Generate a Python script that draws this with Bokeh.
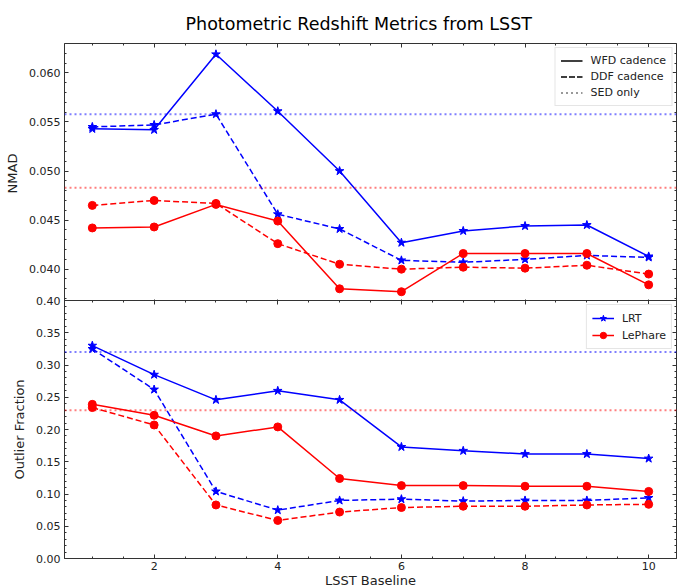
import numpy as np
from bokeh.plotting import figure
from bokeh.models import (Range1d, LinearAxis, SingleIntervalTicker, FixedTicker, Span,
                          Legend, LegendItem, CustomJSTickFormatter, ColumnDataSource)
from bokeh.layouts import column
from bokeh.embed import file_html
from bokeh.resources import INLINE

# ---------------- data ----------------
baseline = [1, 2, 3, 4, 5, 6, 7, 8, 9, 10]

nmad_lrt_wfd = [0.0543, 0.0542, 0.0619, 0.0561, 0.0500, 0.0427, 0.0439, 0.0444, 0.0445, 0.0413]
nmad_lrt_ddf = [0.0545, 0.0547, 0.0558, 0.0456, 0.0441, 0.0409, 0.0407, 0.0410, 0.0414, 0.0412]
nmad_lp_wfd = [0.0442, 0.0443, 0.0466, 0.0449, 0.0380, 0.0377, 0.0416, 0.0416, 0.0416, 0.0384]
nmad_lp_ddf = [0.0465, 0.0470, 0.0467, 0.0426, 0.0405, 0.0400, 0.0402, 0.0401, 0.0404, 0.0395]
nmad_sed_lrt = 0.0558
nmad_sed_lp = 0.0483

out_lrt_wfd = [0.330, 0.285, 0.246, 0.260, 0.246, 0.173, 0.167, 0.162, 0.162, 0.155]
out_lrt_ddf = [0.325, 0.262, 0.104, 0.075, 0.090, 0.092, 0.089, 0.090, 0.090, 0.094]
out_lp_wfd = [0.239, 0.222, 0.190, 0.204, 0.124, 0.113, 0.113, 0.112, 0.112, 0.104]
out_lp_ddf = [0.234, 0.207, 0.083, 0.059, 0.072, 0.079, 0.081, 0.081, 0.083, 0.084]
out_sed_lrt = 0.32
out_sed_lp = 0.23

nmad_ticks = [0.040, 0.045, 0.050, 0.055, 0.060]
out_ticks = [0.00, 0.05, 0.10, 0.15, 0.20, 0.25, 0.30, 0.35, 0.40]
x_lim = (0.55, 10.45)
nmad_lim = (0.0365, 0.0630)
out_lim = (0.0, 0.40)

title_text = "Photometric Redshift Metrics from LSST"
cadence_labels = ["WFD cadence", "DDF cadence", "SED only"]
code_labels = ["LRT", "LePhare"]

# ---------------- style ----------------
FONT = "DejaVu Sans"
BLUE = "#0000ff"
RED = "#ff0000"
AX = "#333333"
TXT = "#222222"
NAN = [float("nan")]

x_range = Range1d(*x_lim)
x_ticker = SingleIntervalTicker(interval=2, num_minor_ticks=4)


def style_axis(ax, show_labels=True):
    ax.major_tick_in = 4
    ax.major_tick_out = 0
    ax.minor_tick_in = 2
    ax.minor_tick_out = 0
    ax.axis_line_color = AX
    ax.major_tick_line_color = AX
    ax.minor_tick_line_color = AX
    ax.major_label_text_font = FONT
    ax.major_label_text_font_size = "11px"
    ax.major_label_text_color = TXT
    ax.axis_label_text_font = FONT
    ax.axis_label_text_font_size = "13px"
    ax.axis_label_text_font_style = "normal"
    ax.axis_label_text_color = TXT
    ax.major_label_standoff = 4
    if not show_labels:
        ax.formatter = CustomJSTickFormatter(code="return ''")
        ax.major_label_text_font_size = "0px"
        ax.major_label_standoff = 0
    return ax


def base_fig(height, y_range, top, bottom):
    p = figure(width=678, height=height, x_range=x_range, y_range=y_range,
               output_backend="svg", toolbar_location=None,
               x_axis_location=None, y_axis_location=None,
               min_border_left=64, min_border_right=2,
               min_border_top=top, min_border_bottom=bottom)
    p.outline_line_color = None
    p.background_fill_color = "white"
    p.grid.visible = False
    return p


# ---------------- top panel: NMAD ----------------
p1 = base_fig(303, Range1d(*nmad_lim), 43, 0)

nmad_minor = [round(v, 4) for v in np.arange(0.037, 0.0631, 0.001)]
nmad_ticker = FixedTicker(ticks=nmad_ticks, minor_ticks=nmad_minor)
left1 = LinearAxis(ticker=nmad_ticker, axis_label="NMAD",
                   formatter=CustomJSTickFormatter(code="return tick.toFixed(3);"))
style_axis(left1)
left1.axis_label_standoff = 6
p1.add_layout(left1, "left")
p1.add_layout(style_axis(LinearAxis(ticker=nmad_ticker), False), "right")
p1.add_layout(style_axis(LinearAxis(ticker=x_ticker), False), "above")
p1.add_layout(style_axis(LinearAxis(ticker=x_ticker), False), "below")

p1.add_layout(Span(location=nmad_sed_lrt, dimension="width", line_color=BLUE,
                   line_alpha=0.5, line_dash="2 3", line_width=2))
p1.add_layout(Span(location=nmad_sed_lp, dimension="width", line_color=RED,
                   line_alpha=0.5, line_dash="2 3", line_width=2))

src1 = ColumnDataSource(dict(x=baseline, lw=nmad_lrt_wfd, ld=nmad_lrt_ddf,
                             pw=nmad_lp_wfd, pd=nmad_lp_ddf))
for col, color, marker, size, dash in [("lw", BLUE, "star", 9, "solid"),
                                       ("ld", BLUE, "star", 9, "6 3"),
                                       ("pw", RED, "circle", 8, "solid"),
                                       ("pd", RED, "circle", 8, "6 3")]:
    p1.line("x", col, source=src1, line_color=color, line_width=1.5, line_dash=dash)
    p1.scatter("x", col, source=src1, marker=marker, size=size,
               fill_color=color, line_color=color)

r_wfd = p1.line(x=NAN, y=NAN, line_color="black", line_width=1.5)
r_ddf = p1.line(x=NAN, y=NAN, line_color="black", line_width=1.5, line_dash="6 2")
r_sed = p1.line(x=NAN, y=NAN, line_color="gray", line_width=2, line_dash="2 3", line_alpha=0.8)
leg1 = Legend(items=[LegendItem(label=cadence_labels[0], renderers=[r_wfd]),
                     LegendItem(label=cadence_labels[1], renderers=[r_ddf]),
                     LegendItem(label=cadence_labels[2], renderers=[r_sed])],
              location="top_right", label_text_font=FONT, label_text_font_size="11px",
              label_text_color=TXT, glyph_width=22, glyph_height=15, label_height=15,
              label_standoff=8, spacing=1, padding=5, margin=4,
              border_line_color="#cccccc", border_line_width=1)
p1.add_layout(leg1)

p1.title.text = title_text
p1.title.text_font = FONT
p1.title.text_font_size = "17.5px"
p1.title.text_font_style = "normal"
p1.title.text_color = "black"
p1.title.align = "left"
p1.title.offset = 121
p1.title.standoff = 20

# ---------------- bottom panel: Outlier fraction ----------------
p2 = base_fig(298, Range1d(*out_lim), 8, 30)
p2.border_fill_alpha = 0
p2.margin = (-11, 0, 0, 0)

out_minor = [round(v, 3) for v in np.arange(0.0, 0.4001, 0.01)]
out_ticker = FixedTicker(ticks=out_ticks, minor_ticks=out_minor)
left2 = LinearAxis(ticker=out_ticker, axis_label="Outlier Fraction",
                   formatter=CustomJSTickFormatter(code="return tick.toFixed(2);"))
style_axis(left2)
left2.axis_label_standoff = 6
p2.add_layout(left2, "left")
p2.add_layout(style_axis(LinearAxis(ticker=out_ticker), False), "right")
p2.add_layout(style_axis(LinearAxis(ticker=x_ticker), False), "above")
bottom2 = LinearAxis(ticker=x_ticker, axis_label="LSST Baseline")
style_axis(bottom2)
bottom2.major_label_standoff = 3
bottom2.axis_label_standoff = 0
p2.add_layout(bottom2, "below")

p2.add_layout(Span(location=out_sed_lrt, dimension="width", line_color=BLUE,
                   line_alpha=0.5, line_dash="2 3", line_width=2))
p2.add_layout(Span(location=out_sed_lp, dimension="width", line_color=RED,
                   line_alpha=0.5, line_dash="2 3", line_width=2))

src2 = ColumnDataSource(dict(x=baseline, lw=out_lrt_wfd, ld=out_lrt_ddf,
                             pw=out_lp_wfd, pd=out_lp_ddf))
for col, color, marker, size, dash in [("lw", BLUE, "star", 9, "solid"),
                                       ("ld", BLUE, "star", 9, "6 3"),
                                       ("pw", RED, "circle", 8, "solid"),
                                       ("pd", RED, "circle", 8, "6 3")]:
    p2.line("x", col, source=src2, line_color=color, line_width=1.5, line_dash=dash)
    p2.scatter("x", col, source=src2, marker=marker, size=size,
               fill_color=color, line_color=color)

lrt_line = p2.line(x=NAN, y=NAN, line_color=BLUE, line_width=1.5)
lrt_mark = p2.scatter(x=NAN, y=NAN, marker="star", size=11, fill_color=BLUE, line_color=BLUE)
lp_line = p2.line(x=NAN, y=NAN, line_color=RED, line_width=1.5)
lp_mark = p2.scatter(x=NAN, y=NAN, marker="circle", size=10, fill_color=RED, line_color=RED)
leg2 = Legend(items=[LegendItem(label=code_labels[0], renderers=[lrt_line, lrt_mark]),
                     LegendItem(label=code_labels[1], renderers=[lp_line, lp_mark])],
              location="top_right", label_text_font=FONT, label_text_font_size="11px",
              label_text_color=TXT, glyph_width=22, glyph_height=16, label_height=16,
              label_standoff=8, spacing=1, padding=5, margin=4,
              border_line_color="#cccccc", border_line_width=1)
p2.add_layout(leg2)

layout = column(p1, p2, spacing=0)

open("out.html", "w").write(file_html(layout, INLINE))
